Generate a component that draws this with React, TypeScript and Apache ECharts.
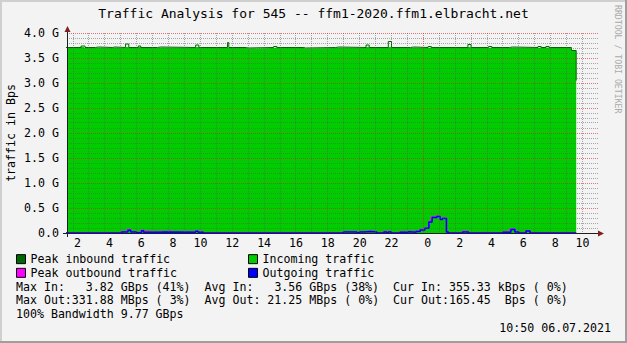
import React, { useEffect, useRef } from 'react';
import * as echarts from 'echarts';

// ---------- texts ----------
const TITLE = 'Traffic Analysis for 545 -- ffm1-2020.ffm1.elbracht.net';
const Y_NAME = 'traffic in Bps';
const WATERMARK = 'RRDTOOL / TOBI OETIKER';
const TIMESTAMP = '10:50 06.07.2021';
const LEGEND_LEFT = ['Peak inbound traffic', 'Peak outbound traffic'];
const LEGEND_RIGHT = ['Incoming traffic', 'Outgoing traffic'];

// ---------- axes (hours since 00:00 of the first day, values in G) ----------
const X_MIN = 1.62;
const X_MAX = 34.97;
const HOUR_GRID = [2, 3, 4, 5, 6, 7, 8, 9, 10, 11, 12, 13, 14, 15, 16, 17, 18, 19, 20, 21, 22, 23, 24, 25, 26, 27, 28, 29, 30, 31, 32, 33, 34];
const LABEL_HOURS = [2, 4, 6, 8, 10, 12, 14, 16, 18, 20, 22, 24, 26, 28, 30, 32, 34];
const Y_MIN = 0;
const Y_MAX = 4;
const Y_STEP = 0.5;
const Y_MINOR_PER_STEP = 5;

// ---------- series ([hour, G], step changes) ----------
const incoming: [number, number][] = [
  [1.5, 3.70], [2.5, 3.72], [2.7, 3.70], [3.4, 3.71], [3.6, 3.70], [4.5, 3.71], [4.6, 3.70],
  [5.3, 3.72], [5.5, 3.70], [6.1, 3.72], [6.25, 3.70], [7.3, 3.71], [7.5, 3.70], [9.7, 3.72],
  [9.9, 3.70], [11.7, 3.71], [11.8, 3.70], [12.9, 3.69], [13.0, 3.70], [14.6, 3.71], [14.8, 3.70],
  [16.5, 3.69], [16.6, 3.70], [18.5, 3.71], [18.7, 3.70], [20.4, 3.72], [20.6, 3.70], [21.8, 3.72],
  [22.0, 3.70], [23.2, 3.71], [23.4, 3.70], [24.3, 3.71], [24.5, 3.70], [26.8, 3.72], [27.0, 3.70],
  [28.1, 3.71], [28.3, 3.70], [29.4, 3.71], [29.6, 3.70], [31.2, 3.71], [31.4, 3.70], [33.3, 3.64],
  [33.6, 3.64],
];
const peakIn: [number, number][] = [
  [1.5, 3.71], [2.5, 3.74], [2.75, 3.71], [3.4, 3.72], [3.6, 3.71], [4.5, 3.72], [4.6, 3.71],
  [5.3, 3.78], [5.5, 3.71], [6.1, 3.74], [6.25, 3.71], [7.3, 3.72], [7.5, 3.71], [9.7, 3.76],
  [9.9, 3.71], [11.7, 3.81], [11.78, 3.71], [12.9, 3.70], [13.0, 3.71], [14.6, 3.73], [14.8, 3.71],
  [16.5, 3.70], [16.6, 3.71], [18.5, 3.72], [18.7, 3.71], [20.4, 3.76], [20.6, 3.71], [21.8, 3.83],
  [22.0, 3.71], [23.2, 3.72], [23.4, 3.71], [24.3, 3.73], [24.5, 3.71], [26.8, 3.77], [27.0, 3.71],
  [28.1, 3.73], [28.3, 3.71], [29.4, 3.72], [29.6, 3.71], [31.2, 3.73], [31.4, 3.71], [31.7, 3.73],
  [31.9, 3.71], [33.3, 3.65], [33.6, 3.65], [33.6, 3.05],
];
const outgoing: [number, number][] = [
  [1.5, 0], [5.06, 0.02], [5.45, 0.055], [5.62, 0.02], [6.0, 0.005], [6.3, 0.045], [6.43, 0.015],
  [7.55, 0.02], [7.7, 0.015], [9.7, 0.035], [9.85, 0.015], [10.18, 0], [18.98, 0.02], [19.82, 0.005],
  [19.98, 0.02], [20.3, 0.03], [20.7, 0.02], [21.07, 0], [21.53, 0.02], [21.7, 0.005], [21.8, 0.02],
  [22.0, 0], [22.54, 0.015], [23.0, 0.025], [23.1, 0.015], [23.55, 0.03], [23.8, 0.06], [24.1, 0.095],
  [24.35, 0.22], [24.55, 0.31], [24.85, 0.33], [25.05, 0.27], [25.2, 0.29], [25.45, 0.02], [25.57, 0],
  [26.47, 0.02], [26.83, 0], [29.0, 0.015], [29.5, 0.07], [29.75, 0.02], [30.0, 0], [30.45, 0.04],
  [30.7, 0], [33.6, 0],
];
const peakOut: [number, number][] = [
  [1.5, 0], [5.0, 0.025], [5.4, 0.065], [5.62, 0.025], [6.0, 0.01], [6.25, 0.05], [6.45, 0.03],
  [6.6, 0.02], [7.4, 0.03], [7.55, 0.02], [8.0, 0.035], [8.15, 0.02], [9.7, 0.04], [9.85, 0.02],
  [10.2, 0], [18.95, 0.025], [19.82, 0.01], [19.98, 0.025], [20.3, 0.035], [20.7, 0.025], [21.07, 0],
  [21.5, 0.03], [21.7, 0.01], [21.8, 0.025], [22.0, 0], [22.5, 0.02], [23.0, 0.03], [23.1, 0.02],
  [23.5, 0.035], [23.8, 0.065], [24.05, 0.1], [24.35, 0.23], [24.5, 0.32], [24.8, 0.34], [25.05, 0.28],
  [25.2, 0.3], [25.45, 0.025], [25.57, 0], [26.45, 0.03], [26.83, 0], [29.0, 0.02], [29.45, 0.08],
  [29.75, 0.025], [30.0, 0], [30.45, 0.045], [30.7, 0], [33.6, 0],
];

// ---------- statistics lines ([column, text]) ----------
const STAT_ROW_1: [number, string][] = [
  [0, 'Max In:'], [10, '3.82 GBps (41%)'], [27, 'Avg In:'], [37, '3.56 GBps (38%)'],
  [54, 'Cur In: 355.33 kBps ('], [76, '0%)'],
];
const STAT_ROW_2: [number, string][] = [
  [0, 'Max Out:331.88 MBps ('], [22, '3%)'], [27, 'Avg Out: 21.25 MBps ('], [49, '0%)'],
  [54, 'Cur Out:165.45'], [70, 'Bps ('], [76, '0%)'],
];
const STAT_ROW_3: [number, string][] = [[0, '100% Bandwidth 9.77 GBps']];

// ---------- style ----------
const MONO = '"DejaVu Sans Mono", monospace';
const FS = 11.6;
const CW = FS * 0.602;
const BG = '#F3F3F3';
const MINOR = 'rgba(90,90,90,0.5)';
const MAJOR = 'rgba(205,35,35,0.6)';
const AXIS = '#1F1F1F';
const ARROW = '#801F1F';
const C_PEAK_IN = '#006600';
const C_IN = '#00CC00';
const C_PEAK_OUT = '#FF00FF';
const C_OUT = '#0000FF';

const W = 627;
const H = 343;
const G_LEFT = 67;
const G_RIGHT = 598;
const G_TOP = 33;
const G_BOTTOM = 233;

function statTexts(row: [number, string][], y: number) {
  return row.map(([col, text]) => ({
    type: 'text',
    z: 100,
    style: {
      text, x: 16 + col * CW, y, font: `${FS}px ${MONO}`, fill: '#000',
      align: 'left', textAlign: 'left', verticalAlign: 'middle', textVerticalAlign: 'middle',
    },
  }));
}

function legendItems(names: string[], colors: string[]) {
  return names.map((name, i) => ({
    name,
    icon: 'rect',
    itemStyle: { color: colors[i], borderColor: '#000', borderWidth: 1 },
  }));
}

export default function App() {
  const ref = useRef<HTMLDivElement>(null);
  useEffect(() => {
    const chart = echarts.init(ref.current!, null, { renderer: 'svg' });
    const legendBase = {
      orient: 'vertical',
      top: 252.3,
      itemWidth: 9,
      itemHeight: 9,
      itemGap: 0,
      padding: 0,
      selectedMode: false,
      textStyle: { fontFamily: MONO, fontSize: FS, color: '#000', lineHeight: 13.7 },
    };
    const labelText = { fontFamily: MONO, fontSize: FS, color: '#000' };
    chart.setOption({
      animation: false,
      backgroundColor: BG,
      title: {
        text: TITLE,
        left: 'center',
        top: 7,
        padding: 0,
        textStyle: { fontFamily: MONO, fontSize: 13, fontWeight: 'normal', color: '#000' },
      },
      legend: [
        { ...legendBase, left: 16, data: legendItems(LEGEND_LEFT, [C_PEAK_IN, C_PEAK_OUT]) },
        { ...legendBase, left: 248, data: legendItems(LEGEND_RIGHT, [C_IN, C_OUT]) },
      ],
      grid: {
        left: G_LEFT, right: W - G_RIGHT, top: G_TOP, bottom: H - G_BOTTOM,
        containLabel: false, outerBoundsMode: 'none',
      },
      xAxis: {
        type: 'value', min: X_MIN, max: X_MAX,
        axisLine: { show: false },
        axisTick: { show: false },
        axisLabel: {
          customValues: LABEL_HOURS,
          formatter: (v: number) => {
            const h = v % 24;
            return h < 10 ? `{p|${h}}` : `${h}`;
          },
          ...labelText,
          margin: 4,
          rich: { p: { ...labelText, padding: [0, 0, 0, 9] } },
        },
        splitLine: { show: false },
      },
      yAxis: {
        type: 'value', min: Y_MIN, max: Y_MAX, interval: Y_STEP,
        axisLine: { show: false },
        axisTick: { show: false },
        axisLabel: {
          formatter: (v: number) => (v === 0 ? '0.0' : `${v.toFixed(1)} G`),
          ...labelText, margin: 8,
        },
        splitLine: { show: false },
      },
      series: [
        {
          name: 'Incoming traffic', type: 'line', step: 'end', data: incoming, symbol: 'none',
          color: C_IN, lineStyle: { width: 0 }, areaStyle: { color: C_IN, opacity: 1 }, silent: true,
        },
        {
          name: 'Peak inbound traffic', type: 'line', step: 'end', data: peakIn, symbol: 'none',
          color: C_PEAK_IN, lineStyle: { width: 1, color: C_PEAK_IN }, silent: true,
        },
        {
          name: 'Peak outbound traffic', type: 'line', step: 'end', data: peakOut, symbol: 'none',
          color: C_PEAK_OUT, lineStyle: { width: 1.5, color: C_PEAK_OUT }, silent: true,
        },
        {
          name: 'Outgoing traffic', type: 'line', step: 'end', data: outgoing, symbol: 'none',
          color: C_OUT, lineStyle: { width: 1.5, color: C_OUT }, silent: true,
        },
      ],
    });

    // grid lines drawn over the data (as rrdtool does), placed through the chart's own scales
    const toPx = (x: number, y: number) => chart.convertToPixel({ gridIndex: 0 }, [x, y]) as number[];
    const snap = (p: number) => Math.floor(p) + 0.5;
    const gridLines: any[] = [];
    const yStepCount = Math.round((Y_MAX - Y_MIN) / Y_STEP) * Y_MINOR_PER_STEP;
    for (let i = 1; i <= yStepCount; i++) {
      const v = Y_MIN + (i * Y_STEP) / Y_MINOR_PER_STEP;
      const y = snap(toPx(X_MIN, v)[1]);
      gridLines.push({
        type: 'line', z: 50, silent: true,
        shape: { x1: G_LEFT, y1: y, x2: G_RIGHT, y2: y },
        style: { stroke: i % Y_MINOR_PER_STEP === 0 ? MAJOR : MINOR, lineWidth: 1, lineDash: [1, 1] },
      });
    }
    HOUR_GRID.forEach((h) => {
      const x = snap(toPx(h, Y_MIN)[0]);
      gridLines.push({
        type: 'line', z: h % 24 === 0 ? 51 : 50, silent: true,
        shape: { x1: x, y1: G_TOP, x2: x, y2: G_BOTTOM },
        style: { stroke: h % 24 === 0 ? MAJOR : MINOR, lineWidth: 1, lineDash: [1, 1] },
      });
    });

    chart.setOption({
      graphic: [
        ...gridLines,
        // frame shading
        { type: 'line', z: 100, shape: { x1: 0, y1: 1, x2: W, y2: 1 }, style: { stroke: '#CFCFCF', lineWidth: 2 } },
        { type: 'line', z: 100, shape: { x1: 1, y1: 0, x2: 1, y2: H }, style: { stroke: '#CFCFCF', lineWidth: 2 } },
        { type: 'line', z: 100, shape: { x1: 0, y1: H - 1, x2: W, y2: H - 1 }, style: { stroke: '#9E9E9E', lineWidth: 2 } },
        { type: 'line', z: 100, shape: { x1: W - 1, y1: 0, x2: W - 1, y2: H }, style: { stroke: '#9E9E9E', lineWidth: 2 } },
        // axes
        { type: 'line', z: 100, shape: { x1: G_LEFT - 4, y1: G_BOTTOM + 0.5, x2: G_RIGHT + 1, y2: G_BOTTOM + 0.5 }, style: { stroke: AXIS, lineWidth: 1 } },
        { type: 'line', z: 100, shape: { x1: G_LEFT + 0.5, y1: G_BOTTOM + 4, x2: G_LEFT + 0.5, y2: G_TOP - 2 }, style: { stroke: AXIS, lineWidth: 1 } },
        { type: 'polygon', z: 101, shape: { points: [[G_RIGHT, G_BOTTOM - 2.5], [G_RIGHT + 6, G_BOTTOM + 0.5], [G_RIGHT, G_BOTTOM + 3.5]] }, style: { fill: ARROW } },
        { type: 'polygon', z: 101, shape: { points: [[G_LEFT - 2.5, G_TOP - 1], [G_LEFT + 0.5, G_TOP - 7], [G_LEFT + 3.5, G_TOP - 1]] }, style: { fill: ARROW } },
        // y axis name
        {
          type: 'text', z: 100, x: 11, y: 133, rotation: Math.PI / 2,
          style: { text: Y_NAME, x: 0, y: 0, font: `${FS}px ${MONO}`, fill: '#000', align: 'center', textAlign: 'center', verticalAlign: 'middle', textVerticalAlign: 'middle' },
        },
        // watermark
        {
          type: 'text', z: 100, x: 617.5, y: 5, rotation: -Math.PI / 2,
          style: { text: WATERMARK, x: 0, y: 0, font: `8.2px ${MONO}`, fill: '#AAAAAA', align: 'left', textAlign: 'left', verticalAlign: 'middle', textVerticalAlign: 'middle' },
        },
        ...statTexts(STAT_ROW_1, 286.6),
        ...statTexts(STAT_ROW_2, 300.3),
        ...statTexts(STAT_ROW_3, 314),
        {
          type: 'text', z: 100,
          style: { text: TIMESTAMP, x: 611, y: 327.7, font: `${FS}px ${MONO}`, fill: '#000', align: 'right', textAlign: 'right', verticalAlign: 'middle', textVerticalAlign: 'middle' },
        },
      ],
    });
    return () => chart.dispose();
  }, []);
  return <div ref={ref} style={{ position: 'fixed', left: 0, top: 0, width: W, height: H }} />;
}
